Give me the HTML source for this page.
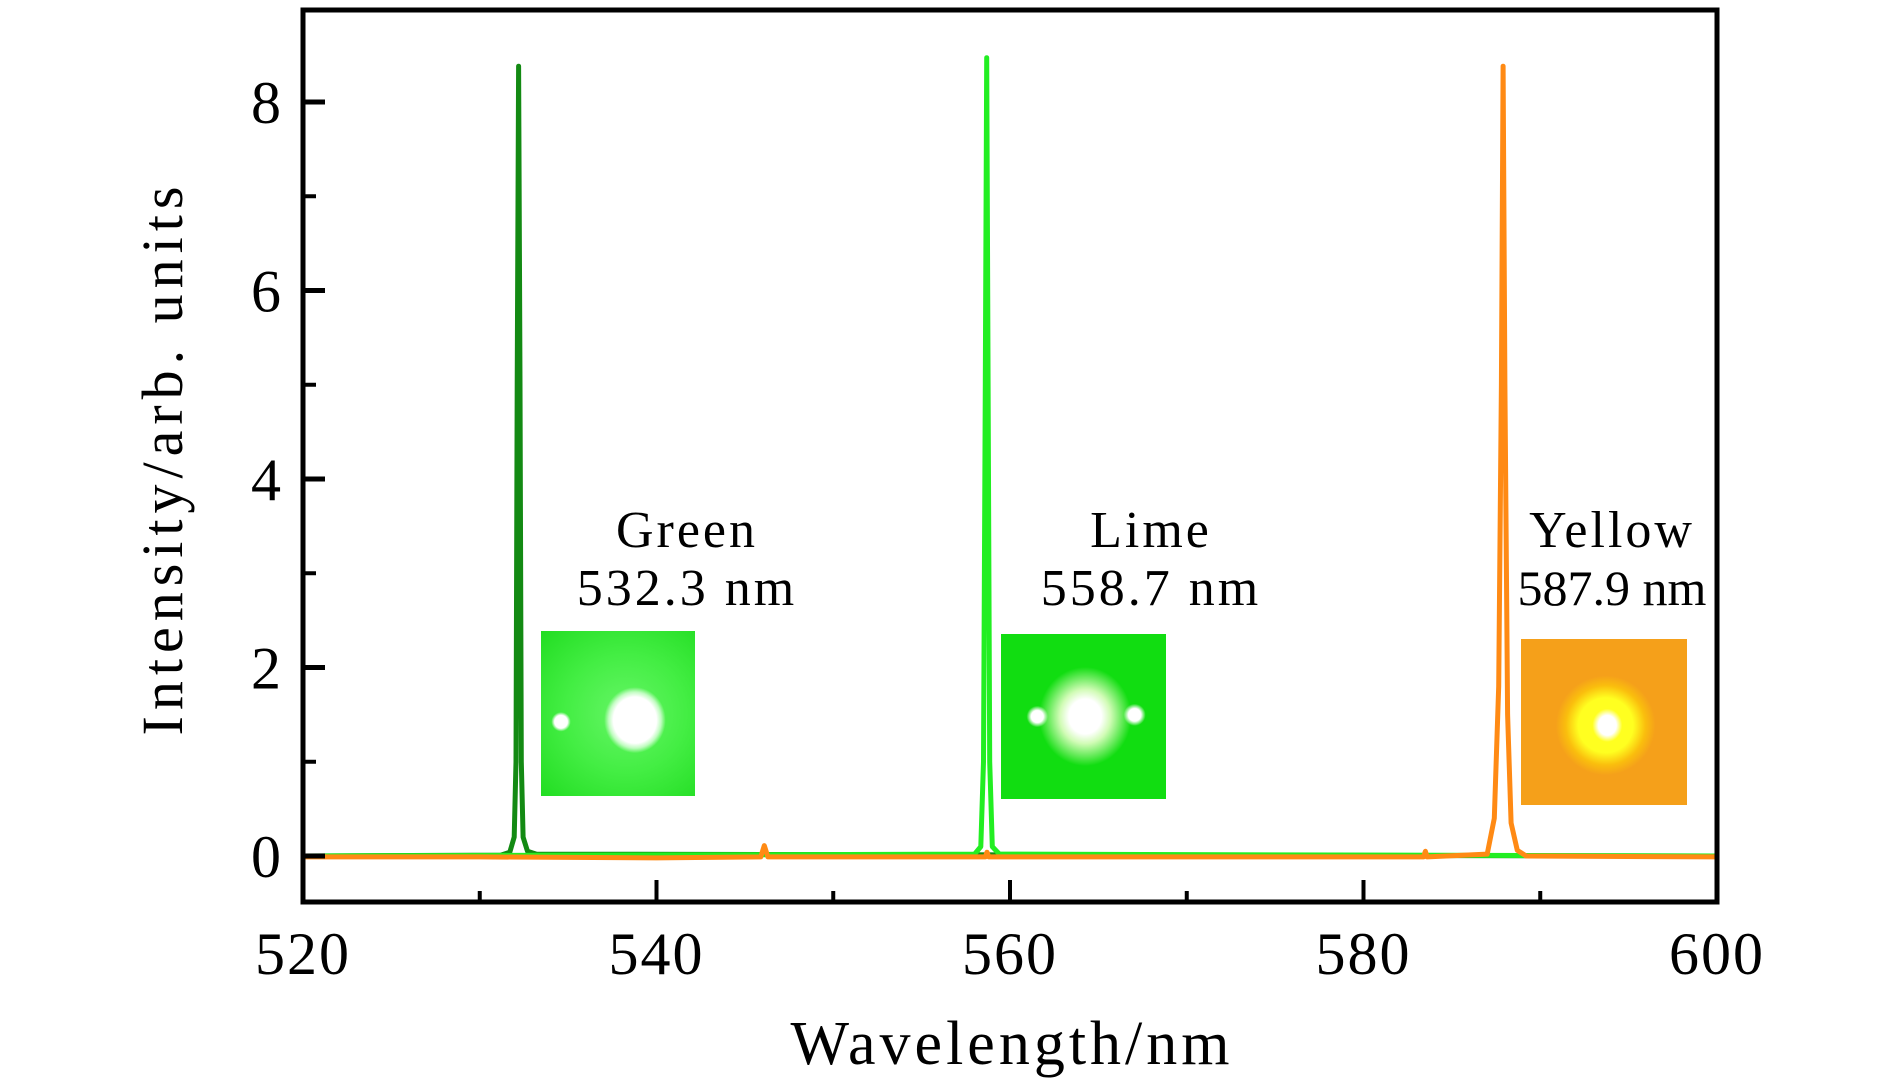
<!DOCTYPE html>
<html><head><meta charset="utf-8">
<style>
html,body{margin:0;padding:0;background:#fff;}
#wrap{position:relative;width:1890px;height:1087px;overflow:hidden;background:#fff;}
svg{position:absolute;left:0;top:0;}
.photo{position:absolute;}
</style></head>
<body>
<div id="wrap">
<svg id="chart" width="1890" height="1087"></svg>
<div class="photo" style="left:541px;top:631px;width:154px;height:165px;background:radial-gradient(circle at 13% 55%, #fff 0 4%, rgba(255,255,255,0) 6%),radial-gradient(ellipse 20% 20% at 61% 54%, #fff 0 70%, rgba(220,255,220,0.8) 85%, rgba(70,240,70,0) 100%),radial-gradient(ellipse at 55% 50%, #66f566 0%, #44ee44 50%, #22dd22 100%);"></div>
<div class="photo" style="left:1001px;top:634px;width:165px;height:165px;background:radial-gradient(circle at 22% 50%, #fff 0 4%, rgba(255,255,255,0) 7%),radial-gradient(circle at 81% 49%, #fff 0 4%, rgba(255,255,255,0) 7%),radial-gradient(ellipse 28% 30% at 51% 50%, #fff 0 35%, rgba(230,255,200,0.9) 55%, rgba(40,230,20,0) 100%),#11dd11;"></div>
<div class="photo" style="left:1521px;top:639px;width:166px;height:166px;background:radial-gradient(ellipse 9% 10% at 52% 52%, #fff 0 60%, rgba(255,255,120,0) 100%),radial-gradient(ellipse 30% 30% at 51% 52%, #ffff20 0 55%, rgba(255,220,0,0.5) 80%, rgba(245,160,20,0) 100%),#f5a01a;"></div>
</div>
<script>
const xTicks = [520, 540, 560, 580, 600];
const xMinor = [530, 550, 570, 590];
const yTicks = [0, 2, 4, 6, 8];
const yMinor = [1, 3, 5, 7];
const greenX = [520, 531.2, 531.7, 531.95, 532.05, 532.12, 532.2, 532.28, 532.35, 532.45, 532.7, 533.2, 600];
const greenY = [0.0, 0.01, 0.04, 0.2, 1.0, 5.0, 8.38, 5.0, 1.0, 0.2, 0.05, 0.02, 0.0];
const limeX = [520, 558.0, 558.35, 558.5, 558.6, 558.68, 558.76, 558.85, 559.0, 559.4, 600];
const limeY = [0.0, 0.02, 0.1, 1.0, 5.0, 8.47, 5.0, 1.0, 0.1, 0.02, 0.0];
const orangeX = [520, 530, 540, 545.9, 546.1, 546.3, 555, 558.6, 558.7, 558.8, 570, 583.4, 583.5, 583.6, 587.0, 587.4, 587.65, 587.8, 587.9, 588.0, 588.15, 588.35, 588.7, 589.2, 600];
const orangeY = [-0.01, -0.01, -0.02, -0.01, 0.11, -0.01, -0.01, -0.01, 0.04, -0.01, -0.01, -0.01, 0.05, -0.01, 0.02, 0.4, 1.8, 5.0, 8.38, 5.0, 1.5, 0.35, 0.06, 0.0, -0.01];

const NS = 'http://www.w3.org/2000/svg';
const svg = document.getElementById('chart');
const L = 303, R = 1717, T = 10, B = 902;
const Y0 = 856, Y8 = 102;
function xs(v){ return L + (v - 520) / 80 * (R - L); }
function ys(v){ return Y0 - v / 8 * (Y0 - Y8); }
function mk(tag, attrs){ const e = document.createElementNS(NS, tag); for (const k in attrs) e.setAttribute(k, attrs[k]); svg.appendChild(e); return e; }
const FONT = '"Liberation Serif", "DejaVu Serif", serif';

function series(xa, ya, color, name){
  let d = '';
  for (let i = 0; i < xa.length; i++) d += (i ? 'L' : 'M') + xs(xa[i]).toFixed(1) + ',' + ys(ya[i]).toFixed(1);
  const p = mk('path', {d: d, fill: 'none', stroke: color, 'stroke-width': 5, 'stroke-linejoin': 'round'});
  
  
}
series(greenX, greenY, '#138a13', 'green-spectrum-line');
series(limeX, limeY, '#22ee22', 'lime-spectrum-line');
series(orangeX, orangeY, '#ff8a14', 'yellow-spectrum-line');

const frame = mk('rect', {x: L, y: T, width: R - L, height: B - T, fill: 'none', stroke: '#000', 'stroke-width': 5});



xTicks.forEach(v => {
  const t = mk('line', {x1: xs(v), x2: xs(v), y1: B, y2: B - 22, stroke: '#000', 'stroke-width': 4});
  
  
  const lb = mk('text', {x: xs(v), y: 974, 'font-family': FONT, 'font-size': 60, 'text-anchor': 'middle', 'letter-spacing': 2});
  lb.textContent = v;
  
  
});
xMinor.forEach(v => {
  const t = mk('line', {x1: xs(v), x2: xs(v), y1: B, y2: B - 11, stroke: '#000', 'stroke-width': 4});
  
  
});
yTicks.forEach(v => {
  const t = mk('line', {x1: L, x2: L + 22, y1: ys(v), y2: ys(v), stroke: '#000', 'stroke-width': 5});
  
  
  const lb = mk('text', {x: 281, y: ys(v) + 21, 'font-family': FONT, 'font-size': 60, 'text-anchor': 'end'});
  lb.textContent = v;
  
  
});
yMinor.forEach(v => {
  const t = mk('line', {x1: L, x2: L + 13, y1: ys(v), y2: ys(v), stroke: '#000', 'stroke-width': 4});
  
  
});

const xt = mk('text', {x: 1012, y: 1064, 'font-family': FONT, 'font-size': 62, 'text-anchor': 'middle', 'letter-spacing': 4});
xt.textContent = 'Wavelength/nm';



const yt = mk('text', {x: 0, y: 0, 'font-family': FONT, 'font-size': 58, 'text-anchor': 'middle', 'letter-spacing': 6, transform: 'translate(182,458) rotate(-90)'});
yt.textContent = 'Intensity/arb. units';



const notes = [
  ['Green', '532.3 nm', 687, 'green-annotation'],
  ['Lime', '558.7 nm', 1151, 'lime-annotation'],
  ['Yellow', '587.9 nm', 1612, 'yellow-annotation']
];
notes.forEach(n => {
  const a = mk('text', {x: n[2], y: 547, 'font-family': FONT, 'font-size': 52, 'text-anchor': 'middle', 'letter-spacing': 3});
  a.textContent = n[0];
  
  
  const b = mk('text', {x: n[2], y: 605, 'font-family': FONT, 'font-size': n[0] === 'Yellow' ? 50 : 52, 'text-anchor': 'middle', 'letter-spacing': n[0] === 'Yellow' ? 0 : 3});
  b.textContent = n[1];
  
  
});
</script>
</body></html>
